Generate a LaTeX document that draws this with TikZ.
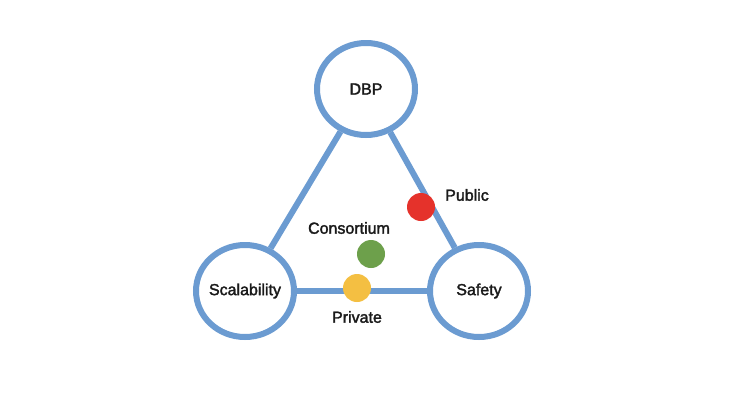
\documentclass[tikz,border=0pt]{standalone}
\usepackage{fontspec}
\setmainfont{Liberation Sans}[FakeBold=2]
\usetikzlibrary{shapes.geometric}
\definecolor{ringblue}{HTML}{6B9BD1}
\definecolor{dotred}{HTML}{E5322B}
\definecolor{dotgreen}{HTML}{6DA04B}
\definecolor{dotyellow}{HTML}{F4BF42}
\definecolor{txt}{HTML}{1A1A1A}
\tikzset{
  ring/.style={ellipse, draw=ringblue, line width=6pt, fill=white,
    minimum width=98pt, minimum height=92pt, inner sep=0pt, text=txt,
    font=\fontsize{16}{19}\selectfont},
  link/.style={draw=ringblue, line width=6pt},
  dot/.style={circle, minimum size=28pt, inner sep=0pt},
  lbl/.style={font=\fontsize{16}{19}\selectfont, inner sep=0pt, text=txt}
}
\begin{document}
\begin{tikzpicture}[x=1pt,y=-1pt]
\useasboundingbox[fill=white] (0,0) rectangle (750,400);
\node[ring] (dbp) at (366,89) {\makebox[0pt]{DBP}};
\node[ring] (scal) at (245,291) {\makebox[0pt]{Scalability}};
\node[ring] (safe) at (479,291) {\makebox[0pt]{Safety}};
\path[link] (dbp) -- (scal);
\path[link] (dbp) -- (safe);
\path[link] (scal) -- (safe);
\node[dot, fill=dotred] (pub) at (421,207) {};
\node[dot, fill=dotgreen] (cons) at (371,254) {};
\node[dot, fill=dotyellow] (priv) at (357,288) {};
\node[lbl] (lpub) at (467,195) {Public};
\node[lbl] (lcons) at (349,228) {Consortium};
\node[lbl] (lpriv) at (357,317) {Private};
\end{tikzpicture}
\end{document}
